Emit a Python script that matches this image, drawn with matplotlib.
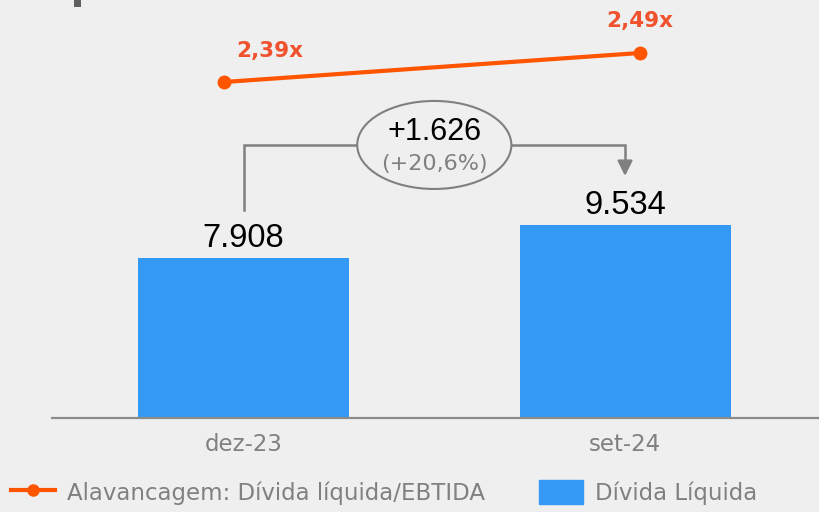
import matplotlib.pyplot as plt
from matplotlib.patches import Ellipse, Rectangle
from matplotlib.lines import Line2D

# data
periods = ['dez-23', 'set-24']
net_debt = [7908, 9534]
leverage = [2.39, 2.49]
leverage_labels = ['2,39x', '2,49x']

BG = '#efefef'
BLUE = '#3399f5'
ORANGE = '#ff5500'
ORANGE_TXT = '#f0522e'
GRAY = '#808080'


def fmt_thousands(v):
    return '{:,}'.format(v).replace(',', '.')


def main():
    W, H = 820, 512
    fig = plt.figure(figsize=(W / 100, H / 100), dpi=100, facecolor=BG)
    plt.rcParams['font.family'] = ['DejaVu Sans']

    base_px = 418
    left_px = 52
    ax = fig.add_axes([left_px / W, (H - base_px) / H, (W - left_px) / W, base_px / H])
    ax.set_facecolor('none')

    x = [0, 1]
    px_per_unit = 160 / 7908.0
    ax.bar(x, net_debt, width=0.553, color=BLUE, zorder=2)
    ax.set_xlim(-0.502, 1.511)
    ax.set_ylim(0, base_px / px_per_unit)

    for s in ['top', 'left', 'right']:
        ax.spines[s].set_visible(False)
    ax.spines['bottom'].set_color('#8c8c8c')
    ax.spines['bottom'].set_linewidth(1.6)
    ax.set_yticks([])
    ax.set_xticks(x)
    ax.set_xticklabels(periods, fontsize=16.5, color=GRAY)
    ax.tick_params(axis='x', length=0, pad=11)

    # value labels (baseline ~11px above the bar top)
    for xi, v in zip(x, net_debt):
        ax.annotate(fmt_thousands(v), (xi, v), xytext=(0, 8), textcoords='offset points',
                    ha='center', va='baseline', fontsize=23.5, color='black',
                    family='Liberation Sans')

    # variation bracket
    diff = net_debt[1] - net_debt[0]
    pct = diff / net_debt[0] * 100
    y_h = 13495
    ell_w = 0.404
    ell_h = 4350
    xc = 0.5
    ax.plot([x[0], x[0], xc - ell_w / 2], [net_debt[0] + 2374, y_h, y_h], color=GRAY, lw=1.8,
            solid_joinstyle='miter')
    ax.plot([xc + ell_w / 2, x[1], x[1]], [y_h, y_h, net_debt[1] + 2428 + 650], color=GRAY, lw=1.8,
            solid_joinstyle='miter')
    ax.annotate('', xy=(x[1], net_debt[1] + 2428), xytext=(x[1], net_debt[1] + 2428 + 700),
                arrowprops=dict(arrowstyle='-|>,head_length=0.9,head_width=0.45', color=GRAY, lw=1.8,
                                shrinkA=0, shrinkB=0))
    ax.add_patch(Ellipse((xc, y_h), ell_w, ell_h, facecolor=BG, edgecolor=GRAY, lw=1.5, zorder=3))
    ax.annotate('+' + fmt_thousands(diff), (xc, y_h), xytext=(0, 3.6), textcoords='offset points',
                ha='center', va='baseline', fontsize=22, color='black', zorder=4,
                family='Liberation Sans')
    ax.annotate('(+' + ('%.1f' % pct).replace('.', ',') + '%)', (xc, y_h), xytext=(0, -18),
                textcoords='offset points', ha='center', va='baseline', fontsize=16,
                color=GRAY, zorder=4)

    # leverage line on a secondary scale
    ax2 = ax.twinx()
    ax2.set_ylim(2.39 - (base_px - 82) / 290.0, 2.39 + 82 / 290.0)
    ax2.axis('off')
    lx = [-0.051, 1.039]
    ax2.plot(lx, leverage, color=ORANGE, lw=3, marker='o', markersize=9, zorder=5)
    offsets = [(33, 18), (0, 18.5)]
    for xi, v, lab, off in zip(lx, leverage, leverage_labels, offsets):
        ax2.annotate(lab, (xi, v), xytext=off, textcoords='offset points', ha='center',
                     va='baseline', fontsize=15.5, fontweight='bold', color=ORANGE_TXT)

    # small cut-off mark in the top-left corner
    fig.add_artist(Rectangle((74 / W, 1 - 7 / H), 7 / W, 7 / H, transform=fig.transFigure,
                             color='#606060', lw=0))

    handles = [Line2D([], [], color=ORANGE, lw=3, marker='o', markersize=8),
               Rectangle((0, 0), 1, 1, color=BLUE)]
    fig.legend(handles, ['Alavancagem: Dívida líquida/EBTIDA', 'Dívida Líquida'],
               loc='lower left', bbox_to_anchor=(-0.003, -0.013), ncol=2, frameon=False,
               fontsize=16.5, labelcolor=GRAY, handlelength=1.9, handleheight=1.2,
               handletextpad=0.55, columnspacing=2.35, borderaxespad=0.2)

    fig.savefig('out.png', dpi=100, facecolor=BG)


if __name__ == '__main__':
    main()
